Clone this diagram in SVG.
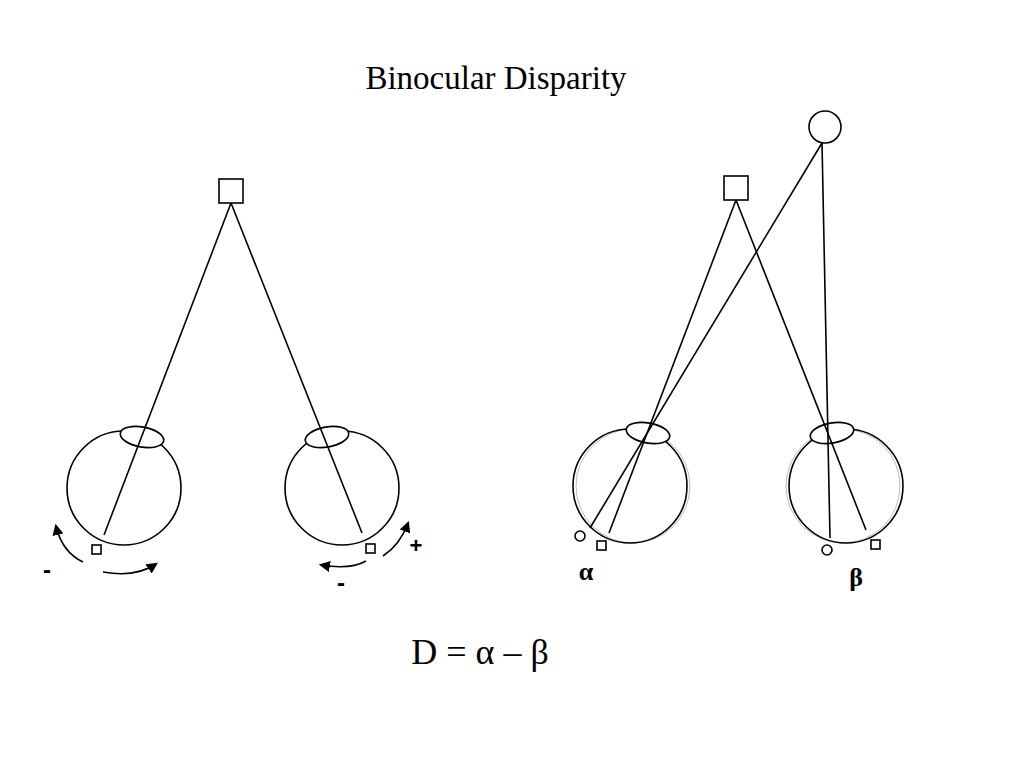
<svg xmlns="http://www.w3.org/2000/svg" width="1024" height="768" viewBox="0 0 1024 768">
<style>
.s{fill:none;stroke:#000;stroke-width:1.6}
.e{fill:#fff;stroke:#000;stroke-width:1.6}
.t{font-family:"Liberation Serif",serif;fill:#000}
.b{font-family:"Liberation Sans",sans-serif;font-weight:bold;fill:#000}
</style>
<defs><marker id="a" viewBox="0 0 10 10" refX="8" refY="5" markerWidth="7" markerHeight="7" orient="auto"><path d="M0,0L10,5L0,10z"/></marker></defs>
<rect width="1024" height="768" fill="#fff"/>
<text class="t" x="496" y="89" font-size="33" text-anchor="middle">Binocular Disparity</text>
<g id="eye1"><circle class="s" cx="124" cy="488" r="57"/><ellipse class="e" cx="142" cy="437" rx="22" ry="10" transform="rotate(10 142 437)"/><rect class="s" x="92" y="545" width="9" height="9"/></g>
<g id="eye2"><circle class="s" cx="342" cy="488" r="57"/><ellipse class="e" cx="327" cy="437" rx="22" ry="10" transform="rotate(-10 327 437)"/><rect class="s" x="366" y="544" width="9" height="9"/></g>
<g id="target1"><rect class="s" x="219" y="179" width="24" height="24"/></g>
<g id="target2"><rect class="s" x="724" y="176" width="24" height="24"/></g>
<g id="target3"><circle class="s" cx="825" cy="127" r="16"/></g>
<g id="eye3"><circle fill="none" stroke="#bbb" cx="633" cy="486" r="57"/><circle class="s" cx="630" cy="486" r="57"/><ellipse class="e" cx="648" cy="433" rx="22" ry="10" transform="rotate(10 648 433)"/><circle class="s" cx="580" cy="536" r="5"/><rect class="s" x="597" y="541" width="9" height="9"/></g>
<g id="eye4"><circle fill="none" stroke="#bbb" cx="843" cy="486" r="57"/><circle class="s" cx="846" cy="486" r="57"/><ellipse class="e" cx="832" cy="433" rx="22" ry="10" transform="rotate(-10 832 433)"/><circle class="s" cx="827" cy="550" r="5"/><rect class="s" x="871" y="540" width="9" height="9"/></g>
<g id="connectors">
<line class="s" x1="231" y1="203" x2="104" y2="535"/>
<line class="s" x1="231" y1="203" x2="362" y2="533"/>
<line class="s" x1="736" y1="200" x2="609" y2="533"/>
<line class="s" x1="736" y1="200" x2="866" y2="530"/>
<line class="s" x1="822" y1="143" x2="590" y2="528"/>
<line class="s" x1="822" y1="143" x2="830" y2="538"/>
<path class="s" d="M83,562Q62,552 56,526" marker-end="url(#a)"/>
<path class="s" d="M103,572Q135,578 156,564" marker-end="url(#a)"/>
<path class="s" d="M366,561Q350,570 321,565" marker-end="url(#a)"/>
<path class="s" d="M383,556Q400,545 408,523" marker-end="url(#a)"/>
</g>
<text class="b" x="47" y="578" font-size="24" text-anchor="middle">-</text>
<text class="b" x="341" y="591" font-size="24" text-anchor="middle">-</text>
<text class="b" x="416" y="553" font-size="22" text-anchor="middle">+</text>
<text class="t" x="586" y="580" font-size="26" font-weight="bold" text-anchor="middle">α</text>
<text class="t" x="856" y="586" font-size="26" font-weight="bold" text-anchor="middle">β</text>
<text class="t" x="480" y="664" font-size="36" text-anchor="middle">D = α – β</text>
</svg>
